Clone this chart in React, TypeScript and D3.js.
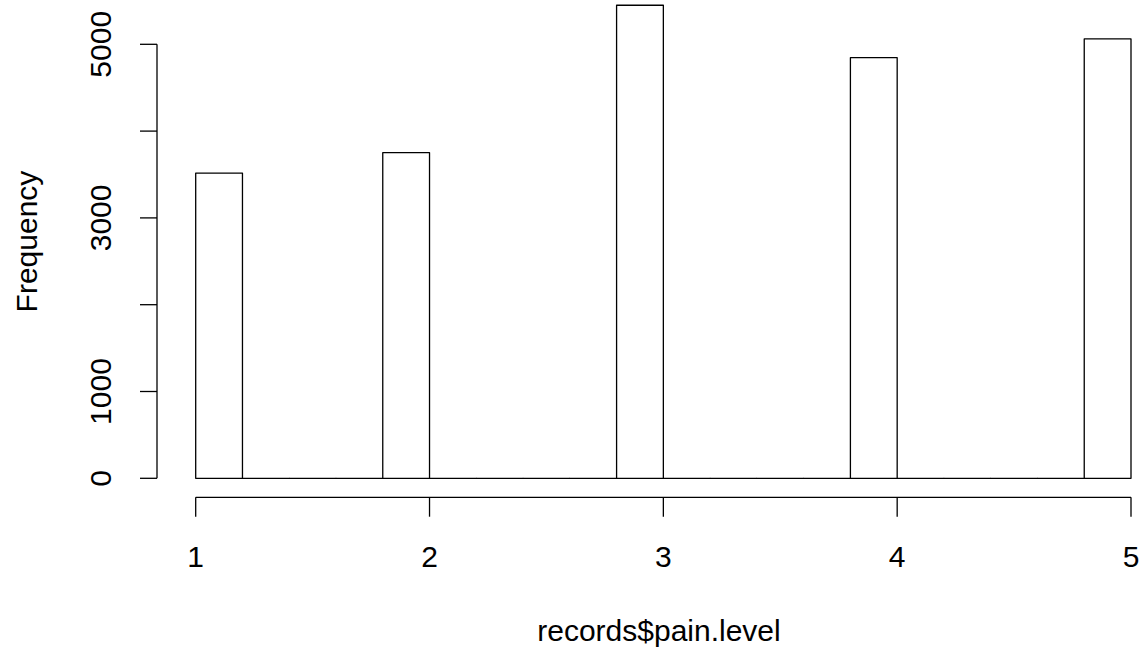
import React from "react";
import * as d3 from "d3";

const painLevels = [1, 2, 3, 4, 5];
const levelCounts = [3516, 3752, 5450, 4846, 5062];
const xTicks = [1, 2, 3, 4, 5];
const yTicks = [0, 1000, 2000, 3000, 4000, 5000];
const yTickShown = [0, 1000, 3000, 5000];
const xTitle = "records$pain.level";
const yTitle = "Frequency";

const W = 1142;
const H = 650;
const FONT = "'Liberation Sans', Arial, Helvetica, sans-serif";
const FS = 30;

export default function App() {
  const x = d3.scaleLinear().domain([1, 5]).range([195.7, 1131]);
  const y = d3.scaleLinear().domain([0, 5000]).range([478.3, 44.3]);

  const breaks = d3.range(0, 21).map((i) => 1 + i * 0.2);
  const bins = breaks.slice(0, -1).map((b0, i) => {
    const b1 = breaks[i + 1];
    let count = 0;
    painLevels.forEach((lv, j) => {
      const inBin =
        i === 0
          ? lv >= b0 - 1e-9 && lv <= b1 + 1e-9
          : lv > b0 + 1e-9 && lv <= b1 + 1e-9;
      if (inBin) count += levelCounts[j];
    });
    return { x0: b0, x1: b1, count };
  });

  const axisY = 497.3;
  const axisX = 157;

  const binPath = (b: { x0: number; x1: number; count: number }) => {
    const p = d3.path();
    p.moveTo(x(b.x0), y(0));
    p.lineTo(x(b.x0), y(b.count));
    p.lineTo(x(b.x1), y(b.count));
    p.lineTo(x(b.x1), y(0));
    p.closePath();
    return p.toString();
  };

  return (
    <svg
      width={W}
      height={H}
      style={{ position: "absolute", left: 0, top: 0, display: "block", background: "#fff" }}
      fontFamily={FONT}
    >
      <rect x={0} y={0} width={W} height={H} fill="#fff" />
      {bins.map((b, i) => (
        <path
          key={i}
          d={binPath(b)}
          fill="none"
          stroke="#000"
          strokeWidth={1.3}
          strokeLinejoin="round"
        />
      ))}
      {/* x axis */}
      <line x1={x(1)} x2={x(5)} y1={axisY} y2={axisY} stroke="#000" strokeWidth={1.3} />
      {xTicks.map((t) => (
        <g key={t}>
          <line x1={x(t)} x2={x(t)} y1={axisY} y2={516.7} stroke="#000" strokeWidth={1.3} />
          <text x={x(t)} y={566.5} textAnchor="middle" fontSize={FS} fill="#000">
            {String(t)}
          </text>
        </g>
      ))}
      {/* y axis */}
      <line x1={axisX} x2={axisX} y1={y(0)} y2={y(5000)} stroke="#000" strokeWidth={1.3} />
      {yTicks.map((t) => (
        <line key={t} x1={axisX} x2={140} y1={y(t)} y2={y(t)} stroke="#000" strokeWidth={1.3} />
      ))}
      {yTickShown.map((t) => (
        <text
          key={t}
          transform={`translate(111,${y(t)}) rotate(-90)`}
          textAnchor="middle"
          fontSize={FS}
          fill="#000"
        >
          {String(t)}
        </text>
      ))}
      <text x={659} y={640.5} textAnchor="middle" fontSize={FS} fill="#000">
        {xTitle}
      </text>
      <text
        transform={`translate(36.5,241.5) rotate(-90)`}
        textAnchor="middle"
        fontSize={FS}
        fill="#000"
      >
        {yTitle}
      </text>
    </svg>
  );
}
